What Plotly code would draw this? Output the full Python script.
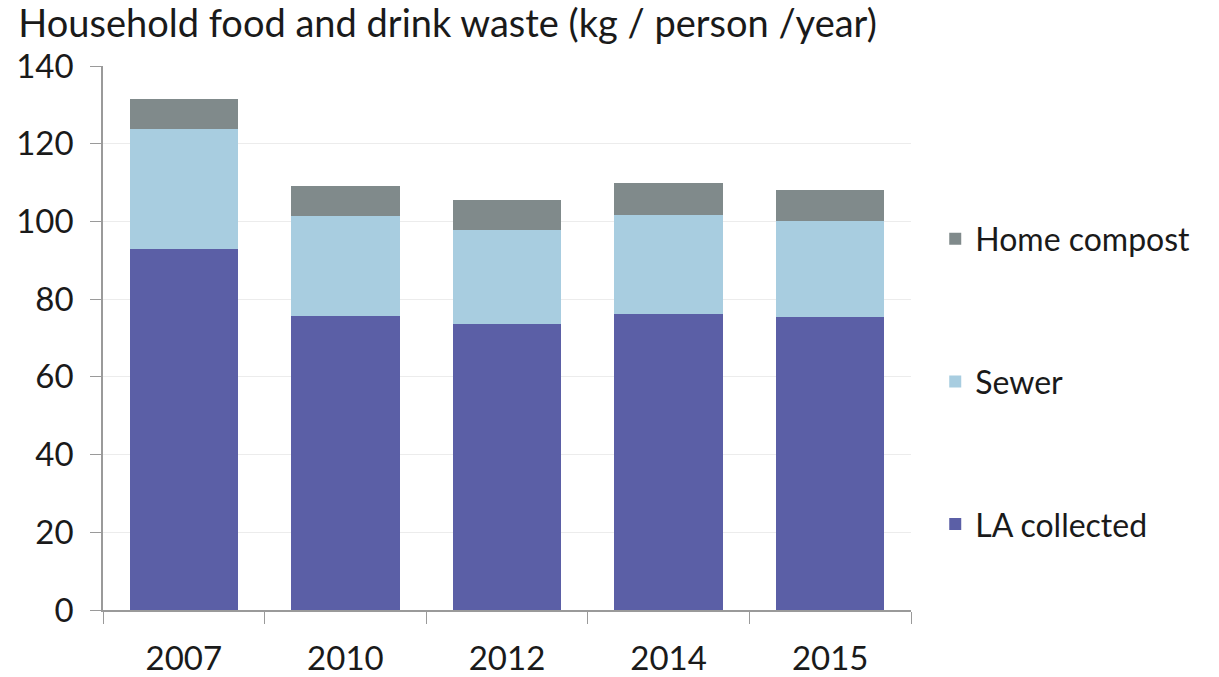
import plotly.graph_objects as go

years = ["2007", "2010", "2012", "2014", "2015"]
la_collected = [92.8, 75.7, 73.6, 76.1, 75.3]
sewer = [31.1, 25.6, 24.3, 25.6, 24.7]
home_compost = [7.7, 7.7, 7.6, 8.1, 8.1]

y_ticks = [0, 20, 40, 60, 80, 100, 120, 140]

FONT = "Lato"

fig = go.Figure()
series = [
    ("LA collected", la_collected, "#5b5fa6", "g1", 3),
    ("Sewer", sewer, "#a8cde0", "g2", 2),
    ("Home compost", home_compost, "#808a8b", "g3", 1),
]
for name, vals, col, grp, rank in series:
    fig.add_trace(go.Bar(
        x=years, y=vals, name=name, legendgroup=grp, legendrank=rank,
        marker=dict(color=col, line=dict(width=0)),
    ))

fig.update_layout(
    barmode="stack",
    bargap=0.33,
    width=1219, height=677,
    margin=dict(l=103, r=308, t=66, b=67, autoexpand=False),
    paper_bgcolor="white", plot_bgcolor="white",
    font=dict(family=FONT, size=33, color="#1a1a1a"),
    title=dict(text="Household food and drink waste (kg / person /year)",
               x=0.015, xanchor="left", y=0.984, yanchor="top",
               font=dict(family=FONT, size=38, color="#1a1a1a")),
    legend=dict(traceorder="grouped", x=1.03, xanchor="left", y=0.42, yanchor="middle",
                tracegroupgap=98, font=dict(size=32), itemwidth=30,
                bgcolor="rgba(0,0,0,0)"),
    showlegend=True,
)
fig.update_xaxes(
    showline=True, linecolor="#9a9a9a", linewidth=1.5,
    ticks="outside", tickson="boundaries", ticklen=12, tickcolor="#9a9a9a",
    tickfont=dict(size=33), showgrid=False, range=[-0.5, 4.5],
    ticklabelstandoff=19, automargin=False,
)
fig.update_yaxes(
    range=[0, 140], tickvals=y_ticks, showline=True, linecolor="#9a9a9a", linewidth=1.5,
    ticks="outside", ticklen=11, tickcolor="#9a9a9a",
    showgrid=True, gridcolor="#ececec", gridwidth=1,
    tickfont=dict(size=33), zeroline=False, ticklabelstandoff=10, automargin=False,
)

fig.write_html("out.html", config={"displayModeBar": False},
               post_script="document.body.style.margin='0';document.body.style.overflow='hidden';")
